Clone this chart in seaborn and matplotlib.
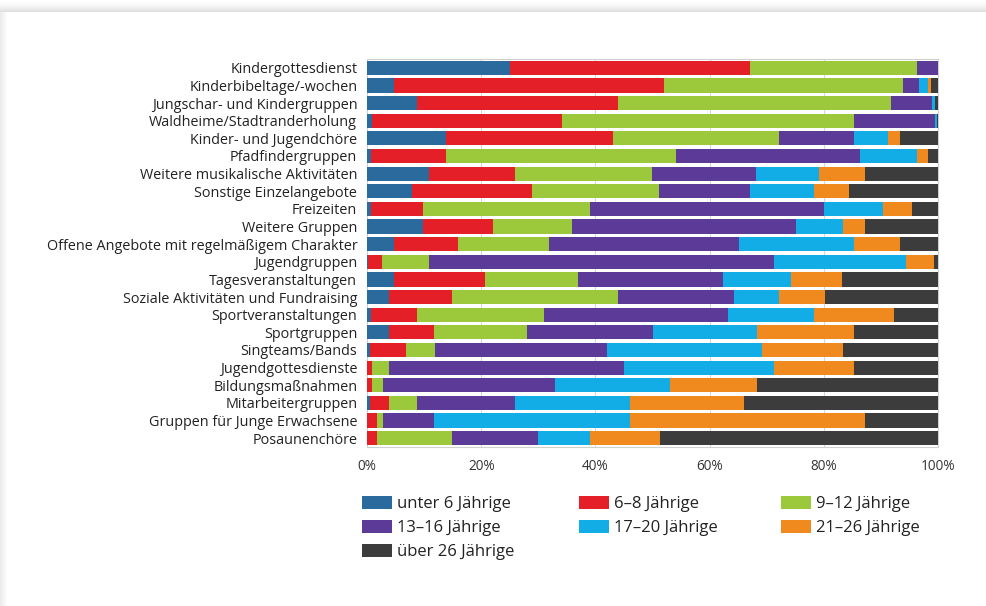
import numpy as np
import pandas as pd
import matplotlib
matplotlib.use("Agg")
import matplotlib.pyplot as plt
from matplotlib.patches import Patch, Rectangle
import seaborn as sns

# Angebote (top to bottom)
categories = [
    "Kindergottesdienst",
    "Kinderbibeltage/-wochen",
    "Jungschar- und Kindergruppen",
    "Waldheime/Stadtranderholung",
    "Kinder- und Jugendchöre",
    "Pfadfindergruppen",
    "Weitere musikalische Aktivitäten",
    "Sonstige Einzelangebote",
    "Freizeiten",
    "Weitere Gruppen",
    "Offene Angebote mit regelmäßigem Charakter",
    "Jugendgruppen",
    "Tagesveranstaltungen",
    "Soziale Aktivitäten und Fundraising",
    "Sportveranstaltungen",
    "Sportgruppen",
    "Singteams/Bands",
    "Jugendgottesdienste",
    "Bildungsmaßnahmen",
    "Mitarbeitergruppen",
    "Gruppen für Junge Erwachsene",
    "Posaunenchöre",
]

# Anteile der Altersgruppen in Prozent
unter_6 = [25.0, 4.8, 8.8, 0.8, 13.9, 0.7, 10.8, 7.8, 0.7, 9.8, 4.8,
           0.2, 4.8, 3.8, 0.7, 3.8, 0.5, 0.0, 0.0, 0.5, 0.0, 0.0]
j6_8 = [42.0, 47.2, 35.2, 33.3, 29.1, 13.2, 15.1, 21.1, 9.1, 12.2, 11.1,
        2.4, 15.9, 11.1, 8.1, 8.0, 6.3, 0.8, 0.8, 3.3, 1.8, 1.8]
j9_12 = [29.4, 41.8, 47.8, 51.2, 29.2, 40.2, 24.0, 22.2, 29.2, 13.9, 16.0,
         8.2, 16.2, 29.1, 22.2, 16.2, 5.1, 3.0, 2.0, 5.0, 1.0, 13.1]
j13_16 = [3.6, 2.9, 7.2, 14.2, 13.1, 32.2, 18.2, 15.9, 41.0, 39.2, 33.2,
          60.4, 25.4, 20.2, 32.2, 22.1, 30.1, 41.2, 30.1, 17.2, 9.0, 15.1]
j17_20 = [0.0, 1.5, 0.4, 0.4, 6.0, 10.1, 11.1, 11.2, 10.3, 8.2, 20.2,
          23.2, 11.9, 8.0, 15.0, 18.2, 27.2, 26.2, 20.2, 20.1, 34.3, 9.0]
j21_26 = [0.0, 0.5, 0.0, 0.0, 2.0, 1.8, 8.1, 6.3, 5.1, 4.0, 8.0,
          4.9, 9.0, 8.0, 14.1, 17.0, 14.1, 14.1, 15.2, 20.0, 41.2, 12.3]
ueber_26 = [0.0, 1.3, 0.6, 0.1, 6.7, 1.8, 12.7, 15.5, 4.6, 12.7, 6.7,
            0.7, 16.8, 19.8, 7.7, 14.7, 16.7, 14.7, 31.7, 33.9, 12.7, 48.7]

series_names = ["unter 6 Jährige", "6–8 Jährige", "9–12 Jährige",
                "13–16 Jährige", "17–20 Jährige", "21–26 Jährige",
                "über 26 Jährige"]
colors = ["#2b6a9c", "#e51f27", "#9cc93b", "#5b3b97", "#12ade6",
          "#f08a1f", "#3c3c3c"]

df = pd.DataFrame(
    dict(zip(series_names,
             [unter_6, j6_8, j9_12, j13_16, j17_20, j21_26, ueber_26])),
    index=categories,
)
share = df.div(df.sum(axis=1), axis=0) * 100
cum = share.cumsum(axis=1)

sns.set_theme(style="white")
plt.rcParams["font.family"] = ["Open Sans", "DejaVu Sans"]

fig = plt.figure(figsize=(9.86, 6.06), dpi=100)
W, H = 986, 606

# card shadow along the top and left edges
for i in range(12):
    g = 1.0 - 0.12 * (i / 11) ** 1.5
    fig.patches.append(Rectangle((0, 1 - (i + 1) / H), 1, 1 / H,
                                 transform=fig.transFigure,
                                 facecolor=(g, g, g), edgecolor="none",
                                 zorder=-10))
for i in range(7):
    g = 0.92 + 0.07 * (i / 6)
    fig.patches.append(Rectangle((i / W, 0), 1 / W, 1 - 12 / H,
                                 transform=fig.transFigure,
                                 facecolor=(g, g, g), edgecolor="none",
                                 zorder=-10))

ax = fig.add_axes([367 / W, 1 - 447 / H, 571 / W, 388 / H])

# stacked bars: draw cumulative totals from the outermost segment inward
for name, color in reversed(list(zip(series_names, colors))):
    sns.barplot(x=cum[name].values, y=categories, color=color,
                orient="h", width=0.8, saturation=1, errorbar=None,
                edgecolor="none", linewidth=0, ax=ax, zorder=3)

ax.set_xlim(0, 100)
ax.set_ylim(len(categories) - 0.5, -0.5)
ax.set_xticks([0, 20, 40, 60, 80, 100])
ax.set_xticklabels(["0%", "20%", "40%", "60%", "80%", "100%"])
ax.xaxis.grid(True, color="#d8d8d8", linewidth=0.8)
ax.yaxis.grid(False)
ax.set_axisbelow(True)
ax.set_xlabel("")
ax.set_ylabel("")
for s in ax.spines.values():
    s.set_color("#d0d0d0")
    s.set_linewidth(0.8)
ax.tick_params(axis="y", length=0, pad=7, labelsize=10.4, labelcolor="#222222")
ax.tick_params(axis="x", length=0, pad=9, labelsize=9.8, labelcolor="#333333")

# legend laid out row by row (matplotlib fills columns first)
handles = [Patch(facecolor=c, edgecolor="none", label=n)
           for n, c in zip(series_names, colors)]
order = [0, 3, 6, 1, 4, 2, 5]
fig.legend([handles[i] for i in order], [series_names[i] for i in order],
           ncol=3, loc="upper left", bbox_to_anchor=(362 / W, 1 - 496 / H),
           frameon=False, fontsize=12, handlelength=1.8, handleheight=0.85,
           handletextpad=0.3, columnspacing=3.85, labelspacing=0.45,
           borderpad=0, borderaxespad=0, labelcolor="#222222")

fig.savefig("out.png", dpi=100, facecolor="white")
